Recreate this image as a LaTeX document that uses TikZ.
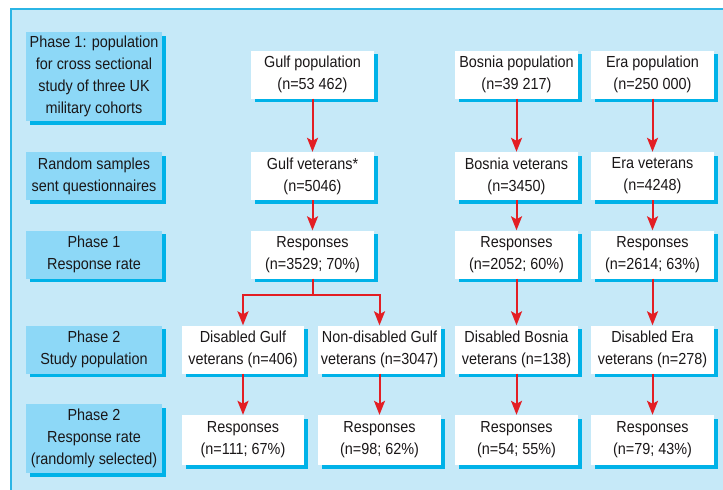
\documentclass[tikz,border=0pt]{standalone}
\usepackage{fontspec}
\setmainfont{Liberation Sans}[FakeStretch=0.9]
\usetikzlibrary{arrows.meta,shadows}
\definecolor{panelblue}{HTML}{C6E9F8}
\definecolor{edgecyan}{HTML}{2BB5E5}
\definecolor{phaseblue}{HTML}{8DD8F7}
\definecolor{shadecyan}{HTML}{00B2E8}
\definecolor{arrowred}{HTML}{E31E24}
\definecolor{inkgrey}{HTML}{1A1718}
\tikzstyle{phase}=[fill=phaseblue,minimum width=136pt,minimum height=48pt,inner sep=0pt,align=center,
  drop shadow={shadow xshift=3.5pt,shadow yshift=-3.5pt,fill=shadecyan,opacity=1}]
\tikzstyle{group}=[fill=white,minimum width=123pt,minimum height=48pt,inner sep=0pt,align=center,
  drop shadow={shadow xshift=3.5pt,shadow yshift=-3.5pt,fill=shadecyan,opacity=1}]
\tikzstyle{flow}=[draw=arrowred,line width=2pt,-{Stealth[length=14pt,width=11pt,inset=3pt]}]

\begin{document}
\begin{tikzpicture}[x=1pt,y=-1pt,font=\fontsize{16}{22}\selectfont,text=inkgrey]
\useasboundingbox (0,0) rectangle (723,490);
\fill[panelblue] (11,9) rectangle (723,490);
\draw[edgecyan,line width=1.5pt] (723,9) -- (11,9) -- (11,490);

% left column
\node[phase,minimum height=89pt] (p1) at (94,76.5) {Phase 1: population\\for cross sectional\\study of three UK\\military cohorts};
\node[phase] (p2) at (94,176) {Random samples\\sent questionnaires};
\node[phase] (p3) at (94,254.5) {Phase 1\\Response rate};
\node[phase] (p4) at (94,349.5) {Phase 2\\Study population};
\node[phase,minimum height=69pt] (p5) at (94,438.5) {Phase 2\\Response rate\\(randomly selected)};

% Gulf
\node[group] (g1) at (312.5,74.5) {Gulf population\\(n=53 462)};
\node[group] (g2) at (312.5,176) {Gulf veterans*\\(n=5046)};
\node[group] (g3) at (312.5,254.5) {Responses\\(n=3529; 70\%)};
\node[group,minimum width=122pt] (dg4) at (243,349.5) {Disabled Gulf\\veterans (n=406)};
\node[group] (ng4) at (379.5,349.5) {Non-disabled Gulf\\veterans (n=3047)};
\node[group,minimum width=122pt,minimum height=50pt] (dg5) at (243,440) {Responses\\(n=111; 67\%)};
\node[group,minimum height=50pt] (ng5) at (379.5,440) {Responses\\(n=98; 62\%)};

% Bosnia
\node[group] (b1) at (516.5,74.5) {Bosnia population\\(n=39 217)};
\node[group] (b2) at (516.5,176) {Bosnia veterans\\(n=3450)};
\node[group] (b3) at (516.5,254.5) {Responses\\(n=2052; 60\%)};
\node[group] (b4) at (516.5,349.5) {Disabled Bosnia\\veterans (n=138)};
\node[group,minimum height=50pt] (b5) at (516.5,440) {Responses\\(n=54; 55\%)};

% Era
\node[group] (e1) at (652.5,74.5) {Era population\\(n=250 000)};
\node[group] (e2) at (652.5,176) {Era veterans\\(n=4248)};
\node[group] (e3) at (652.5,254.5) {Responses\\(n=2614; 63\%)};
\node[group] (e4) at (652.5,349.5) {Disabled Era\\veterans (n=278)};
\node[group,minimum height=50pt] (e5) at (652.5,440) {Responses\\(n=79; 43\%)};

\coordinate (split) at (312.5,295);

\draw[flow] (g1) -- (g2);
\draw[flow] (g2) -- (g3);
\draw[draw=arrowred,line width=2pt] (g3) -- (split);
\draw[flow] (split) -| (dg4);
\draw[flow] (split) -| (ng4);
\draw[flow] (dg4) -- (dg5);
\draw[flow] (ng4) -- (ng5);

\draw[flow] (b1) -- (b2);
\draw[flow] (b2) -- (b3);
\draw[flow] (b3) -- (b4);
\draw[flow] (b4) -- (b5);

\draw[flow] (e1) -- (e2);
\draw[flow] (e2) -- (e3);
\draw[flow] (e3) -- (e4);
\draw[flow] (e4) -- (e5);

\end{tikzpicture}
\end{document}
